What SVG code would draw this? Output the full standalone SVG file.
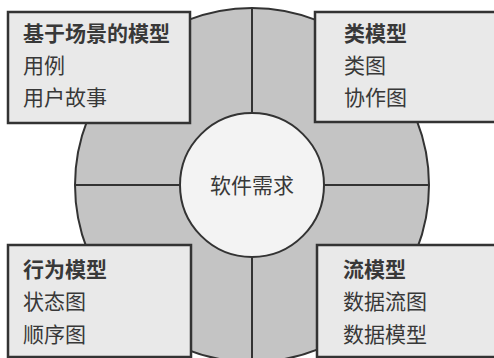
<svg xmlns="http://www.w3.org/2000/svg" width="494" height="358" viewBox="0 0 494 358">
<style>
.bg{fill:#ffffff}
.ring{fill:#c4c4c4;stroke:#333;stroke-width:2}
.div{stroke:#333;stroke-width:2;fill:none}
.core{fill:#f3f3f3;stroke:#333;stroke-width:2}
.box{fill:#e9e9e9;stroke:#333;stroke-width:2.5}
text{font-family:"Noto Sans CJK SC","Noto Sans",sans-serif;font-size:21px;fill:#383838}
.t{font-weight:bold}
</style>
<rect class="bg" x="0" y="0" width="494" height="358"/>
<g id="ring-bg">
<circle class="ring" cx="252" cy="185" r="177"/>
</g>
<g id="connectors">
<line class="div" x1="252" y1="8" x2="252" y2="362"/>
<line class="div" x1="75" y1="185" x2="429" y2="185"/>
</g>
<g id="center">
<circle class="core" cx="252" cy="185" r="72"/>
<text x="252" y="193" text-anchor="middle">软件需求</text>
</g>
<g id="scenario">
<rect class="box" x="8" y="12" width="182" height="111"/>
<text class="t" x="23" y="41">基于场景的模型</text>
<text x="23" y="73">用例</text>
<text x="23" y="105">用户故事</text>
</g>
<g id="class">
<rect class="box" x="315" y="12" width="185" height="110"/>
<text class="t" x="344" y="41">类模型</text>
<text x="344" y="73">类图</text>
<text x="344" y="105">协作图</text>
</g>
<g id="behavior">
<rect class="box" x="8" y="245" width="183" height="112"/>
<text class="t" x="23" y="277">行为模型</text>
<text x="23" y="309">状态图</text>
<text x="23" y="342">顺序图</text>
</g>
<g id="flow">
<rect class="box" x="317" y="245" width="183" height="112"/>
<text class="t" x="343" y="277">流模型</text>
<text x="343" y="309">数据流图</text>
<text x="343" y="342">数据模型</text>
</g>
</svg>
